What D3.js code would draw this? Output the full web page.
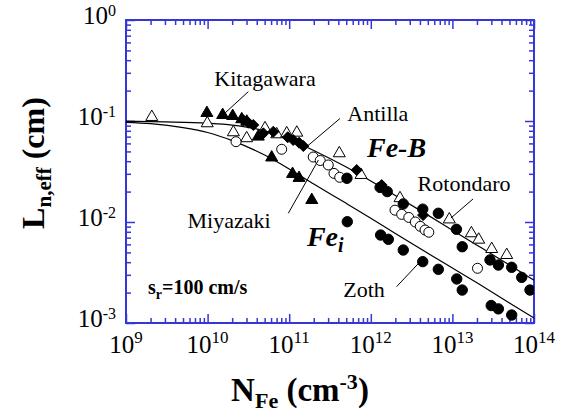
<!DOCTYPE html>
<html><head><meta charset="utf-8">
<script src="https://cdn.jsdelivr.net/npm/d3@7"></script>
<style>body{margin:0;background:#fff} text{font-family:"Liberation Serif","Tinos","Times New Roman",Times,serif;}</style>
</head><body><svg id="c" width="576" height="413"></svg>
<script>
// ---------- data ----------
const xTicks = [1e9, 1e10, 1e11, 1e12, 1e13, 1e14];
const xTickExp = ["9", "10", "11", "12", "13", "14"];
const yTicks = [1, 1e-1, 1e-2, 1e-3];
const yTickExp = ["0", "-1", "-2", "-3"];

// Kitagawara: filled triangles
const kitaN = [9.8e9, 1.53e10, 2.03e10, 2.62e10, 3.02e10, 4.18e10, 6.1e10, 1.1e11, 1.32e11, 1.89e11];
const kitaL = [0.120, 0.1146, 0.112, 0.104, 0.0985, 0.070, 0.0435, 0.0299, 0.0273, 0.0165];

// Antilla: filled diamonds
const antN = [2.74e10, 3.16e10, 3.63e10, 4.82e10, 6.39e10, 9.59e10, 1.12e11, 1.32e11, 1.49e11, 6.72e11, 1.36e12, 4.37e12];
const antL = [0.102, 0.0962, 0.0913, 0.0755, 0.0783, 0.069, 0.0648, 0.061, 0.0565, 0.0327, 0.0232, 0.0117];

// Rotondaro: open triangles
const rotN = [2.07e9, 9.9e9, 2.07e10, 3.01e10, 5.05e10, 7.03e10, 9.32e10, 1.24e11, 4.11e11, 7.59e11, 2.28e12, 9.16e12, 1.71e13, 2.1e13, 3.03e13, 4.63e13];
const rotL = [0.1096, 0.0949, 0.0773, 0.0675, 0.0847, 0.0738, 0.0755, 0.0766, 0.0479, 0.0292, 0.0172, 0.0106, 0.00773, 0.00668, 0.0054, 0.00471];

// Miyazaki: open circles
const miyN = [2.23e10, 8.09e10, 1.97e11, 2.4e11, 3.01e11, 3.54e11, 4.16e11, 1.98e12, 2.39e12, 2.92e12, 3.51e12, 4.04e12, 4.62e12, 5.14e12, 2.03e13];
const miyL = [0.0624, 0.0525, 0.044, 0.0406, 0.0367, 0.0303, 0.0277, 0.0131, 0.0119, 0.0111, 0.0100, 0.00906, 0.00833, 0.00792, 0.00348];

// Zoth: filled circles
const zothN = [5.1e11, 1.3e12, 1.59e12, 2.5e12, 4.33e12, 6.72e12, 1.12e13, 1.32e13, 2.89e13, 3.66e13, 5.33e13, 7.07e13, 8.93e13,
               5.15e11, 1.32e12, 1.64e12, 2.5e12, 4.33e12, 6.72e12, 1.13e13, 1.32e13, 2.99e13, 3.66e13, 5.33e13];
const zothL = [0.0271, 0.022, 0.020, 0.0151, 0.0134, 0.0122, 0.00847, 0.00569, 0.00421, 0.00375, 0.00356, 0.00283, 0.00212,
               0.01007, 0.00743, 0.00674, 0.00528, 0.00405, 0.0034, 0.00273, 0.00212, 0.00149, 0.00138, 0.0012];

// Fit curves
const feBN = [1e9, 3e9, 1e10, 2e10, 5e10, 1e11, 2e11, 5e11, 1e12, 2e12, 5e12, 1e13, 2e13, 5e13, 1e14];
const feBL = [0.0995, 0.098, 0.095, 0.091, 0.080, 0.066, 0.051, 0.035, 0.0255, 0.0183, 0.0117, 0.0083, 0.0059, 0.00375, 0.00265];
const feiN = [1e9, 2e9, 5e9, 1e10, 2e10, 5e10, 1e11, 2e11, 5e11, 1e12, 2e12, 5e12, 1e13, 2e13, 5e13, 1e14];
const feiL = [0.097, 0.094, 0.086, 0.077, 0.064, 0.046, 0.0335, 0.0238, 0.0153, 0.0109, 0.0077, 0.0049, 0.0035, 0.0025, 0.00158, 0.00112];

// ---------- drawing ----------
const m = {l: 126, r: 534, t: 20, b: 323};
const x = d3.scaleLog().domain([1e9, 1e14]).range([m.l, m.r]);
const y = d3.scaleLog().domain([1e-3, 1]).range([m.b, m.t]);
const svg = d3.select("#c");
const blue = "#3636d8";
const serif = "Liberation Serif, Tinos, Times New Roman, Times, serif";

const xMinor = [], yMinor = [];
for (let e = 9; e < 14; e++) for (let k = 2; k < 10; k++) xMinor.push(k * Math.pow(10, e));
for (let e = -3; e < 0; e++) for (let k = 2; k < 10; k++) yMinor.push(k * Math.pow(10, e));

function ax(gen, scale, vals, size, tr) {
  svg.append("g").attr("transform", tr)
    .call(gen(scale).tickValues(vals).tickSize(size).tickSizeOuter(0).tickFormat(""))
    .call(g => { g.select(".domain").remove(); g.selectAll("line").attr("stroke", blue).attr("stroke-width", 1.5); });
}
ax(d3.axisBottom, x, xTicks, -9, `translate(0,${m.b})`);
ax(d3.axisBottom, x, xMinor, -5, `translate(0,${m.b})`);
ax(d3.axisTop, x, xTicks, -9, `translate(0,${m.t})`);
ax(d3.axisTop, x, xMinor, -5, `translate(0,${m.t})`);
ax(d3.axisLeft, y, yTicks, -9, `translate(${m.l},0)`);
ax(d3.axisLeft, y, yMinor, -5, `translate(${m.l},0)`);
ax(d3.axisRight, y, yTicks, -9, `translate(${m.r},0)`);
ax(d3.axisRight, y, yMinor, -5, `translate(${m.r},0)`);
svg.append("rect").attr("x", m.l).attr("y", m.t).attr("width", m.r - m.l).attr("height", m.b - m.t)
  .attr("fill", "none").attr("stroke", blue).attr("stroke-width", 2);

// tick labels
xTicks.forEach((v, i) => {
  const t = svg.append("text").attr("x", x(v)).attr("y", m.b + 30).attr("text-anchor", "middle")
    .style("font-family", serif).attr("font-size", 25).attr("fill", "#000");
  t.append("tspan").text("10");
  t.append("tspan").attr("font-size", 17).attr("dy", -10).text(xTickExp[i]);
});
yTicks.forEach((v, i) => {
  const t = svg.append("text").attr("x", m.l - 10).attr("y", y(v) + 4).attr("text-anchor", "end")
    .style("font-family", serif).attr("font-size", 25).attr("fill", "#000");
  t.append("tspan").text("10");
  t.append("tspan").attr("font-size", 16).attr("dy", -8).text(yTickExp[i]);
});

// axis titles
{
  const t = svg.append("text").attr("x", 300).attr("y", 401).attr("text-anchor", "middle")
    .style("font-family", serif).attr("font-weight", "bold").attr("font-size", 33);
  t.append("tspan").text("N");
  t.append("tspan").attr("font-size", 22).attr("dy", 7).text("Fe");
  t.append("tspan").attr("dy", -7).text(" (cm");
  t.append("tspan").attr("font-size", 22).attr("dy", -12).text("-3");
  t.append("tspan").attr("dy", 12).text(")");
}
{
  const t = svg.append("text").attr("transform", "translate(44,163) rotate(-90)").attr("text-anchor", "middle")
    .style("font-family", serif).attr("font-weight", "bold").attr("font-size", 32);
  t.append("tspan").text("L");
  t.append("tspan").attr("font-size", 21).attr("dy", 7).text("n,eff");
  t.append("tspan").attr("dy", -7).text(" (cm)");
}

// curves
const line = d3.line().x(d => x(d[0])).y(d => y(d[1])).curve(d3.curveMonotoneX);
svg.append("clipPath").attr("id", "pc").append("rect")
  .attr("x", m.l).attr("y", m.t).attr("width", m.r - m.l).attr("height", m.b - m.t);
const pg = svg.append("g").attr("clip-path", "url(#pc)");
pg.append("path").attr("d", line(d3.zip(feBN, feBL))).attr("fill", "none").attr("stroke", "#000").attr("stroke-width", 1.2);
pg.append("path").attr("d", line(d3.zip(feiN, feiL))).attr("fill", "none").attr("stroke", "#000").attr("stroke-width", 1.2);

// markers
function tri(s) { const h = s * Math.sqrt(3) / 2; return `M0,${-h * 2 / 3}L${s / 2},${h / 3}L${-s / 2},${h / 3}Z`; }
function dia(s) { return `M0,${-s}L${s},0L0,${s}L${-s},0Z`; }
function draw(N, L, path, fill) {
  pg.append("g").selectAll("path").data(d3.zip(N, L)).join("path")
    .attr("d", path).attr("transform", d => `translate(${x(d[0])},${y(d[1])})`)
    .attr("fill", fill).attr("stroke", "#000").attr("stroke-width", 1);
}
function drawC(N, L, r, fill) {
  pg.append("g").selectAll("circle").data(d3.zip(N, L)).join("circle")
    .attr("cx", d => x(d[0])).attr("cy", d => y(d[1])).attr("r", r)
    .attr("fill", fill).attr("stroke", "#000").attr("stroke-width", 1);
}
draw(rotN, rotL, tri(12), "#fff");
drawC(miyN, miyL, 5, "#fff");
draw(kitaN, kitaL, tri(12), "#000");
draw(antN, antL, dia(5.5), "#000");
drawC(zothN, zothL, 5.2, "#000");

// annotations (positions in data coordinates)
function label(txt, N, L, size, opts = {}) {
  return svg.append("text").attr("x", x(N)).attr("y", y(L)).attr("text-anchor", opts.anchor || "middle")
    .style("font-family", serif).attr("font-size", size)
    .attr("font-weight", opts.bold ? "bold" : null).attr("font-style", opts.italic ? "italic" : null).text(txt);
}
function leader(n1, l1, n2, l2) {
  svg.append("line").attr("x1", x(n1)).attr("y1", y(l1)).attr("x2", x(n2)).attr("y2", y(l2))
    .attr("stroke", "#000").attr("stroke-width", 1);
}
label("Kitagawara", 5.05e10, 0.222, 22);
leader(3.15e10, 0.195, 1.49e10, 0.112);
label("Antilla", 1.22e12, 0.100, 22);
leader(4.2e11, 0.106, 1.64e11, 0.0557);
label("Fe-B", 2.07e12, 0.044, 28, {bold: true, italic: true});
label("Rotondaro", 1.39e13, 0.0203, 22);
leader(1.79e13, 0.0169, 9.6e12, 0.01096);
label("Miyazaki", 1.83e10, 0.00873, 22);
leader(9.75e10, 0.0122, 2.28e11, 0.0411);
{
  const t = label("", 1.65e11, 0.00578, 28, {bold: true, italic: true, anchor: "start"});
  t.append("tspan").text("Fe");
  t.append("tspan").attr("font-size", 20).attr("dy", 6).text("i");
}
label("Zoth", 8.26e11, 0.00181, 22);
leader(2.07e12, 0.00229, 4.2e12, 0.0042);
{
  const t = label("", 1.86e9, 0.00194, 20, {bold: true, anchor: "start"});
  t.append("tspan").text("s");
  t.append("tspan").attr("font-size", 14).attr("dy", 5).text("r");
  t.append("tspan").attr("dy", -5).text("=100 cm/s");
}
</script></body></html>
